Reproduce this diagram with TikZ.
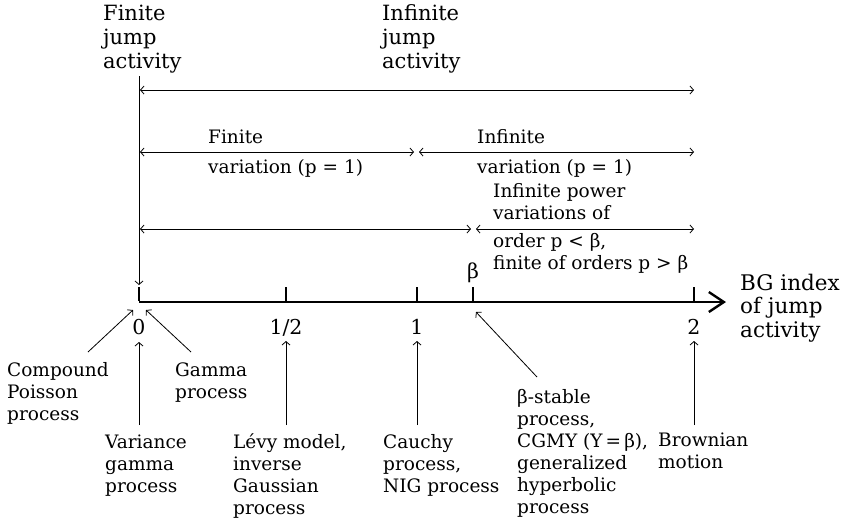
\documentclass[tikz,border=0pt]{standalone}
\usepackage{fontspec}
\setmainfont{DejaVu Serif}
\usetikzlibrary{arrows.meta}
\begin{document}
\begin{tikzpicture}[x=1pt,y=-1pt,
  lab/.style={font=\fontsize{18.5}{22}\selectfont, align=left, anchor=base west, inner sep=0pt},
  head/.style={font=\fontsize{21}{24}\selectfont, align=left, anchor=base west, inner sep=0pt},
  ticklab/.style={font=\fontsize{20.5}{22}\selectfont, anchor=base, inner sep=0pt},
  conn/.style={line width=0.8pt, -{Straight Barb[length=3.5pt,width=8pt]}},
  span/.style={line width=0.8pt, {Straight Barb[length=3.5pt,width=8pt]}-{Straight Barb[length=3.5pt,width=8pt]}},
  axisline/.style={line width=2.6pt, -{Straight Barb[length=15pt,width=20pt,line width=2.4pt]}},
  tickmark/.style={line width=2.6pt}
]
\useasboundingbox (0,0) rectangle (847,523);

% axis and ticks
\coordinate (a0) at (139,302);
\coordinate (aend) at (726,302);
\coordinate (t0) at (139,302);
\coordinate (th) at (286,302);
\coordinate (t1) at (417,302);
\coordinate (tb) at (473,302);
\coordinate (t2) at (694,302);
\draw[axisline] (a0) -- (aend);
\foreach \t in {t0,th,t1,tb,t2} \draw[tickmark] ([yshift=1.3pt]\t) -- ++(0,-14);

\node[ticklab] (l0) at (139,334) {0};
\node[ticklab] (lh) at (286,334) {1/2};
\node[ticklab] (l1) at (417,334) {1};
\node[ticklab] (l2) at (694,334) {2};
\node[ticklab] (lb) at (473,278) {β};

% headers (anchor = baseline of last line)
\node[head] (fja) at (103,68) {Finite\\jump\\activity};
\node[head] (ija) at (382,68) {Infinite\\jump\\activity};
\node[head, font=\fontsize{21.5}{23.5}\selectfont] (bg) at (740,337) {BG index\\of jump\\activity};

% vertical arrow
\coordinate (vtop) at (139,76);
\coordinate (vbot) at (139,285);
\draw[conn] (vtop) -- (vbot);

% span arrows
\coordinate (r1a) at (140,90);
\coordinate (r1b) at (694,90);
\draw[span] (r1a) -- (r1b);

\coordinate (r2a) at (140,152);
\coordinate (r2b) at (414,152);
\coordinate (r2c) at (419,152);
\coordinate (r2d) at (694,152);
\draw[span] (r2a) -- (r2b);
\draw[span] (r2c) -- (r2d);

\coordinate (r3a) at (140,229);
\coordinate (r3b) at (471,229);
\coordinate (r3c) at (476,229);
\coordinate (r3d) at (694,229);
\draw[span] (r3a) -- (r3b);
\draw[span] (r3c) -- (r3d);

% span labels
\node[lab] (fin) at (208,143) {Finite};
\node[lab] (finv) at (208,173) {variation (p = 1)};
\node[lab] (inf) at (477,143) {Infinite};
\node[lab] (infv) at (477,173) {variation (p = 1)};
\node[lab] (ipv) at (493,219) {Infinite power\\variations of};
\node[lab] (ord) at (493,269) {order p < β,\\finite of orders p > β};

% bottom labels
\node[lab] (cpp) at (7,420) {Compound\\Poisson\\process};
\node[lab] (gam) at (175,398) {Gamma\\process};
\node[lab] (vg) at (105,492) {Variance\\gamma\\process};
\node[lab] (levy) at (233,514) {Lévy model,\\inverse\\Gaussian\\process};
\node[lab] (cau) at (383,492) {Cauchy\\process,\\NIG process};
\node[lab] (stab) at (517,513) {β-stable\\process,\\CGMY (Y\,=\,β),\\generalized\\hyperbolic\\process};
\node[lab] (brown) at (658,468) {Brownian\\motion};

% bottom arrows
\coordinate (cppA) at (88,352);   \coordinate (cppB) at (133,310);
\coordinate (gamA) at (191,352);  \coordinate (gamB) at (146,310);
\coordinate (vgA) at (139,425);   \coordinate (vgB) at (139,342);
\coordinate (levyA) at (286,425); \coordinate (levyB) at (286,341);
\coordinate (cauA) at (417,425);  \coordinate (cauB) at (417,341);
\coordinate (stabA) at (537,377); \coordinate (stabB) at (476,312);
\coordinate (brA) at (694,425);   \coordinate (brB) at (694,341);
\draw[conn] (cppA) -- (cppB);
\draw[conn] (gamA) -- (gamB);
\draw[conn] (vgA) -- (vgB);
\draw[conn] (levyA) -- (levyB);
\draw[conn] (cauA) -- (cauB);
\draw[conn] (stabA) -- (stabB);
\draw[conn] (brA) -- (brB);
\end{tikzpicture}
\end{document}
